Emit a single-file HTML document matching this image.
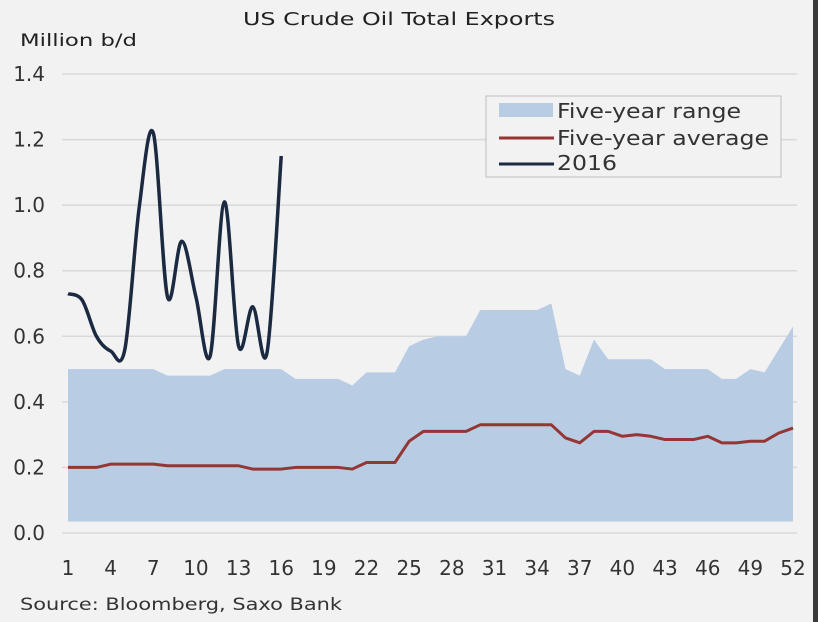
<!DOCTYPE html>
<html><head><meta charset="utf-8"><style>
html,body{margin:0;padding:0;background:#f2f2f2;}
svg{display:block;font-family:"DejaVu Sans","Liberation Sans",sans-serif;}
</style></head><body>
<svg id="chart" width="818" height="622" viewBox="0 0 818 622">
<rect x="0" y="0" width="818" height="622" fill="#f2f2f2"/>
<rect x="813" y="0" width="5" height="622" fill="#3a3a3a"/>
<text x="399" y="25" text-anchor="middle" font-size="18" fill="#222" textLength="312" lengthAdjust="spacingAndGlyphs">US Crude Oil Total Exports</text>
<text x="20" y="46" font-size="17" fill="#222" textLength="117" lengthAdjust="spacingAndGlyphs">Million b/d</text>
<g id="grid"></g>
<g id="marks"></g>
<g id="yt"></g>
<g id="xt"></g>
<g>
<rect x="486" y="96" width="295" height="81" fill="#f2f2f2" stroke="#bdbdbd"/>
<rect x="499" y="103" width="54" height="14" fill="#b8cce4"/>
<text x="557" y="118" font-size="20" fill="#333" textLength="184" lengthAdjust="spacingAndGlyphs">Five-year range</text>
<line x1="499" y1="138" x2="554" y2="138" stroke="#943634" stroke-width="3"/>
<text x="557" y="145" font-size="20" fill="#333" textLength="212" lengthAdjust="spacingAndGlyphs">Five-year average</text>
<line x1="499" y1="164" x2="554" y2="164" stroke="#1b2a41" stroke-width="3"/>
<text x="557" y="170" font-size="20" fill="#333" textLength="60" lengthAdjust="spacingAndGlyphs">2016</text>
</g>
<text x="20" y="610" font-size="17" fill="#333" textLength="322" lengthAdjust="spacingAndGlyphs">Source: Bloomberg, Saxo Bank</text>
</svg>
<script>
const rangeLow = [0.035,0.035,0.035,0.035,0.035,0.035,0.035,0.035,0.035,0.035,0.035,0.035,0.035,0.035,0.035,0.035,0.035,0.035,0.035,0.035,0.035,0.035,0.035,0.035,0.035,0.035,0.035,0.035,0.035,0.035,0.035,0.035,0.035,0.035,0.035,0.035,0.035,0.035,0.035,0.035,0.035,0.035,0.035,0.035,0.035,0.035,0.035,0.035,0.035,0.035,0.035,0.035];
const rangeHigh = [0.5,0.5,0.5,0.5,0.5,0.5,0.5,0.48,0.48,0.48,0.48,0.5,0.5,0.5,0.5,0.5,0.47,0.47,0.47,0.47,0.45,0.49,0.49,0.49,0.57,0.59,0.6,0.6,0.6,0.68,0.68,0.68,0.68,0.68,0.7,0.5,0.48,0.59,0.53,0.53,0.53,0.53,0.5,0.5,0.5,0.5,0.47,0.47,0.5,0.49,0.56,0.63];
const average = [0.2,0.2,0.2,0.21,0.21,0.21,0.21,0.205,0.205,0.205,0.205,0.205,0.205,0.195,0.195,0.195,0.2,0.2,0.2,0.2,0.195,0.215,0.215,0.215,0.28,0.31,0.31,0.31,0.31,0.33,0.33,0.33,0.33,0.33,0.33,0.29,0.275,0.31,0.31,0.295,0.3,0.295,0.285,0.285,0.285,0.295,0.275,0.275,0.28,0.28,0.305,0.32];
const y2016 = [0.73,0.71,0.6,0.555,0.56,0.99,1.22,0.72,0.89,0.72,0.54,1.01,0.57,0.69,0.55,1.15];
const yTicks = [0,0.2,0.4,0.6,0.8,1.0,1.2,1.4];
const xTicks = [1,4,7,10,13,16,19,22,25,28,31,34,37,40,43,46,49,52];

const NS="http://www.w3.org/2000/svg";
const X=w=>68+(w-1)*(793-68)/51;
const Y=v=>533-v*(533-74)/1.4;
function mk(tag,attrs,parent){const e=document.createElementNS(NS,tag);for(const k in attrs)e.setAttribute(k,attrs[k]);document.getElementById(parent).appendChild(e);return e;}

yTicks.forEach(t=>{
  const g=mk('line',{x1:62,x2:797,y1:Y(t),y2:Y(t),stroke:'#d9d9d9','stroke-width':1.5},'grid');
  
  
  const l=mk('text',{x:45,y:Y(t)+7,'text-anchor':'end','font-size':20,fill:'#333'},'yt');
  l.textContent=t.toFixed(1);
  
  
});
xTicks.forEach(t=>{
  const l=mk('text',{x:X(t),y:575,'text-anchor':'middle','font-size':20,fill:'#333'},'xt');
  l.textContent=t;
  
  
});

let d='M'+rangeHigh.map((v,i)=>X(i+1)+','+Y(v)).join('L');
for(let i=rangeLow.length-1;i>=0;i--)d+='L'+X(i+1)+','+Y(rangeLow[i]);
const area=mk('path',{d:d+'Z',fill:'#b8cce4'},'marks');



const avg=mk('path',{d:'M'+average.map((v,i)=>X(i+1)+','+Y(v)).join('L'),fill:'none',stroke:'#943634','stroke-width':3,'stroke-linejoin':'round'},'marks');



const pts=y2016.map((v,i)=>[X(i+1),Y(v)]);
let s='M'+pts[0][0]+','+pts[0][1];
for(let i=0;i<pts.length-1;i++){
  const p0=pts[Math.max(0,i-1)],p1=pts[i],p2=pts[i+1],p3=pts[Math.min(pts.length-1,i+2)];
  const t=1/6;
  s+='C'+(p1[0]+(p2[0]-p0[0])*t)+','+(p1[1]+(p2[1]-p0[1])*t)+' '+(p2[0]-(p3[0]-p1[0])*t)+','+(p2[1]-(p3[1]-p1[1])*t)+' '+p2[0]+','+p2[1];
}
const ln=mk('path',{d:s,fill:'none',stroke:'#1b2a41','stroke-width':3.5,'stroke-linejoin':'round'},'marks');


</script>
</body></html>
